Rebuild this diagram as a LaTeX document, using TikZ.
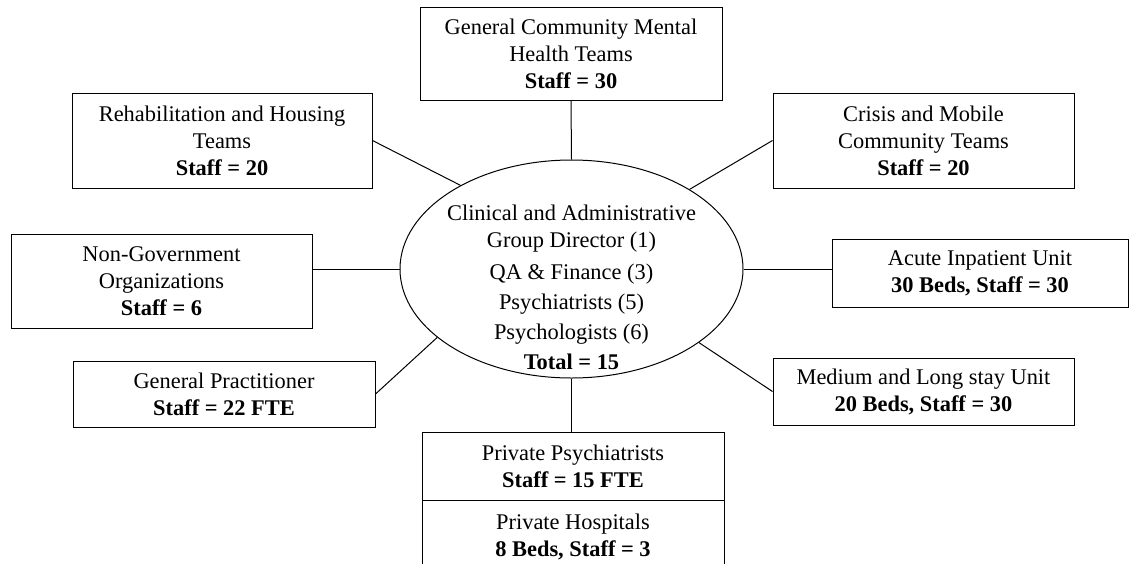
\documentclass[tikz,border=0pt]{standalone}
\usepackage{fontspec}
\setmainfont{Liberation Serif}
\usetikzlibrary{shapes.geometric,calc}
\begin{document}
\begin{tikzpicture}[x=1pt,y=-1pt,
  txt/.style={align=center,inner sep=0pt,font=\fontsize{22.4}{27}\selectfont},
  box/.style={txt,draw,line width=1pt,rectangle},
  conn/.style={line width=1pt}]
\useasboundingbox (0,0) rectangle (1129,563);
% central ellipse
\node[draw,line width=1pt,ellipse,minimum width=343,minimum height=218,inner sep=0pt] (ell) at (571.5,269) {};
\node[txt] (ctext) at (571.5,287) {Clinical and Administrative\\Group Director (1)\\[5pt]QA \& Finance (3)\\[3pt]Psychiatrists (5)\\[3pt]Psychologists (6)\\[3pt]\textbf{Total = 15}};
% boxes
\node[box,minimum width=302,minimum height=93] (gcmht) at (571,53.5) {General Community Mental\\Health Teams\\\textbf{Staff = 30}};
\node[box,minimum width=300,minimum height=95] (rehab) at (222,140.5) {Rehabilitation and Housing\\Teams\\\textbf{Staff = 20}};
\node[box,minimum width=301,minimum height=95] (crisis) at (923.5,140.5) {Crisis and Mobile\\Community Teams\\\textbf{Staff = 20}};
\node[box,minimum width=301,minimum height=94] (ngo) at (161.5,281) {Non-Government\\Organizations\\\textbf{Staff = 6}};
\node[box,minimum width=296,minimum height=68] (acute) at (980,273) {Acute Inpatient Unit\\\textbf{30 Beds, Staff = 30}};
\node[box,minimum width=302,minimum height=66] (gp) at (224,394) {General Practitioner\\\textbf{Staff = 22 FTE}};
\node[box,minimum width=301,minimum height=67] (medium) at (923.5,391.5) {Medium and Long stay Unit\\\textbf{20 Beds, Staff = 30}};
\node[box,minimum width=302,minimum height=68] (pp) at (573,466) {Private Psychiatrists\\\textbf{Staff = 15 FTE}};
\node[box,minimum width=302,minimum height=74] (ph) at (573,537) {Private Hospitals\\\textbf{8 Beds, Staff = 3}};
% connectors
\draw[conn] (gcmht.south) -- (ell.north);
\draw[conn] (rehab.east) -- (ell.143.5);
\draw[conn] (crisis.west) -- (ell.34.5);
\draw[conn] (ell.west) -- (ell.west -| ngo.east);
\draw[conn] (ell.east) -- (ell.east -| acute.west);
\draw[conn] (gp.east) -- (ell.207.7);
\draw[conn] (ell.330.4) -- (medium.west);
\draw[conn] (ell.south) -- (ell.south |- pp.north);
\end{tikzpicture}
\end{document}
